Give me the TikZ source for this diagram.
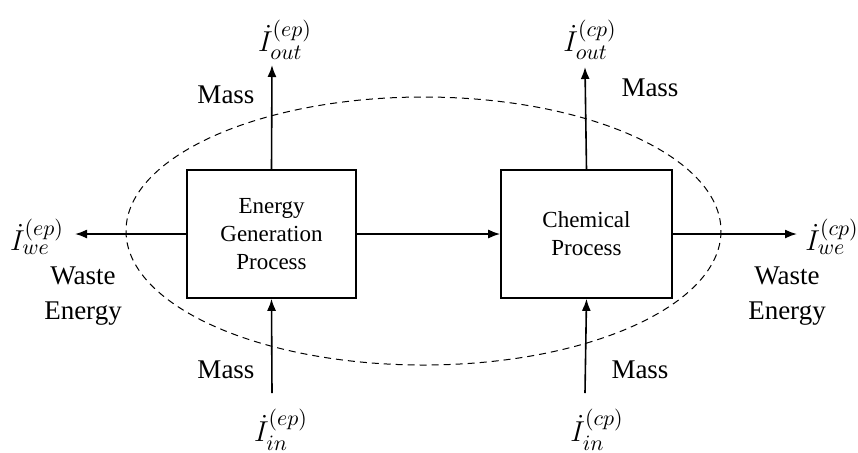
\documentclass[tikz,border=0pt]{standalone}
\usepackage{amsmath}
\usepackage{fontspec}
\setmainfont{Liberation Serif}
\usetikzlibrary{calc,arrows.meta}

\begin{document}
\begin{tikzpicture}[x=0.5pt,y=-0.5pt,>={Latex[length=6pt,width=4.5pt]}]

\tikzset{
  procbox/.style={draw,line width=0.8pt,minimum width=84.5pt,minimum height=64pt,
    align=center,font=\fontsize{11.5}{14}\selectfont},
  flow/.style={->,line width=0.8pt},
  lbl/.style={align=center,font=\fontsize{13.5}{17.5}\selectfont},
  sym/.style={inner sep=1pt,font=\fontsize{15}{17}\selectfont}
}

% ----- frame: same size as the reference -----
\useasboundingbox (0,0) rectangle (858,452);

% ----- control volume -----
\draw[dashed,dash pattern=on 3.5pt off 2.5pt,line width=0.5pt] (423.5,231) ellipse [x radius=297.5, y radius=134];

% ----- process boxes -----
\node[procbox] (egp) at (271.5,234) {Energy\\Generation\\Process};
\node[procbox,minimum width=85.5pt] (chp) at (586.5,234) {Chemical\\Process};

% ----- free ends of the flows -----
\coordinate (eout) at (272,65);
\coordinate (ein)  at (272,393);
\coordinate (ewe)  at (75,234);
\coordinate (cout) at (585,67);
\coordinate (cin)  at (585,393);
\coordinate (cwe)  at (797,234);

% ----- flows -----
\draw[flow] (egp.north) -- (eout);
\draw[flow] (ein) -- (egp.south);
\draw[flow] (egp.west) -- (ewe);
\draw[flow] (egp.east) -- (chp.west);
\draw[flow] (chp.north) -- (cout);
\draw[flow] (cin) -- (chp.south);
\draw[flow] (chp.east) -- (cwe);

% ----- labels -----
\node[sym] (Ieout) at (285,40) {$\dot{I}^{(ep)}_{out}$};
\node[sym] (Icout) at (590,40) {$\dot{I}^{(cp)}_{out}$};
\node[sym] (Iewe)  at (37,237) {$\dot{I}^{(ep)}_{we}$};
\node[sym,anchor=west] (Icwe) at (803,237) {$\dot{I}^{(cp)}_{we}$};
\node[sym] (Iein)  at (281,430) {$\dot{I}^{(ep)}_{in}$};
\node[sym] (Icin)  at (597,430) {$\dot{I}^{(cp)}_{in}$};

\node[lbl] (emtop) at (226,95)  {Mass};
\node[lbl] (cmtop) at (650,88)  {Mass};
\node[lbl] (embot) at (226,370) {Mass};
\node[lbl] (cmbot) at (640,370) {Mass};
\node[lbl] (ewaste) at (83,296)  {Waste\\Energy};
\node[lbl] (cwaste) at (787,296) {Waste\\Energy};

\end{tikzpicture}
\end{document}
